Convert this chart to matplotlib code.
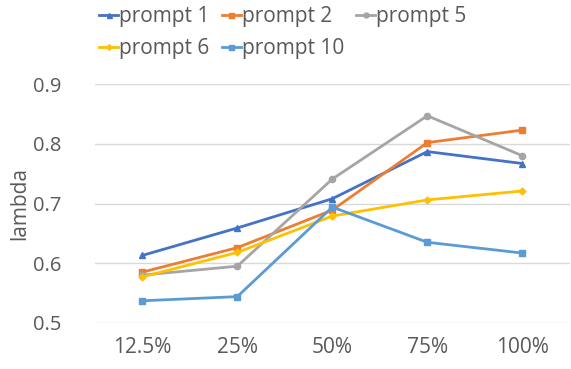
import matplotlib.pyplot as plt

plt.rcParams['font.family'] = ['Open Sans', 'DejaVu Sans']

categories = ['12.5%', '25%', '50%', '75%', '100%']
prompt_1 = [0.613, 0.659, 0.708, 0.787, 0.767]
prompt_2 = [0.585, 0.626, 0.689, 0.802, 0.823]
prompt_5 = [0.580, 0.595, 0.741, 0.847, 0.780]
prompt_6 = [0.577, 0.618, 0.679, 0.706, 0.721]
prompt_10 = [0.537, 0.544, 0.694, 0.635, 0.617]

series = [
    ('prompt 1', prompt_1, '#4472C4', '^', 4.5),
    ('prompt 2', prompt_2, '#ED7D31', 's', 4.5),
    ('prompt 5', prompt_5, '#A5A5A5', 'o', 4.5),
    ('prompt 6', prompt_6, '#FFC000', 'D', 3.5),
    ('prompt 10', prompt_10, '#5B9BD5', 's', 4.5),
]

text_color = '#595959'

fig = plt.figure(figsize=(5.71, 3.69), dpi=100)
ax = fig.add_axes([0.166, 0.125, 0.832, 0.647])

x = list(range(len(categories)))
lines = {}
for name, vals, color, marker, ms in series:
    lines[name], = ax.plot(x, vals, color=color, marker=marker, markersize=ms,
                           linewidth=2, label=name)

ax.set_xlim(-0.5, len(categories) - 0.5)
ax.set_ylim(0.5, 0.9)
ax.set_yticks([0.5, 0.6, 0.7, 0.8, 0.9])
ax.set_xticks(x)
ax.set_xticklabels(categories)
ax.grid(axis='y', color='#D9D9D9', linewidth=1)
ax.set_axisbelow(True)
for s in ax.spines.values():
    s.set_visible(False)
ax.tick_params(length=0, labelsize=15, colors=text_color, pad=10)
ax.tick_params(axis='y', pad=24, labelsize=14.5)
ax.set_ylabel('lambda', fontsize=15, color=text_color)
ax.yaxis.set_label_coords(-0.135, 0.5)

# legend filled row by row: 3 columns, column-major order in matplotlib
order = ['prompt 1', 'prompt 6', 'prompt 2', 'prompt 10', 'prompt 5']
fig.legend([lines[n] for n in order], order, loc='upper left',
           bbox_to_anchor=(0.141, 1.035), ncol=3,
           frameon=False, fontsize=15, labelcolor=text_color,
           handlelength=0.9, handletextpad=0.05, columnspacing=0.6,
           labelspacing=0.55, markerscale=0.8)

fig.savefig('out.png', dpi=100)
